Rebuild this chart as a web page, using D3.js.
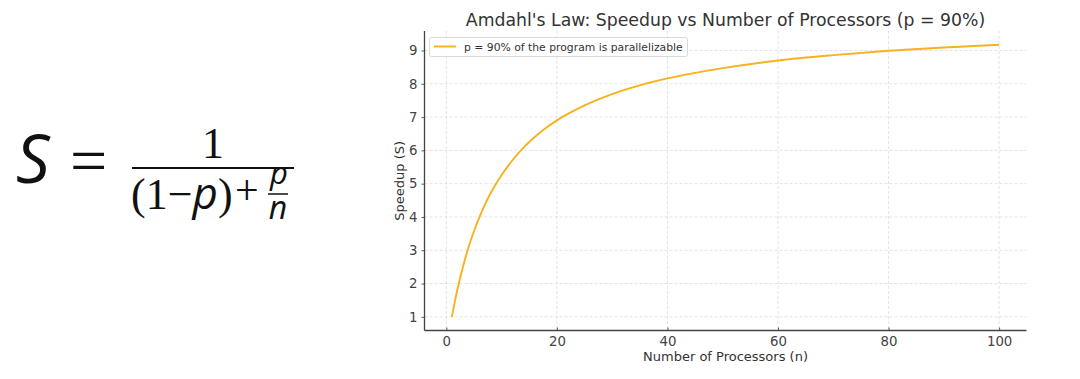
<!DOCTYPE html>
<html>
<head>
<meta charset="utf-8">
<script src="https://cdn.jsdelivr.net/npm/d3@7"></script>
<style>
  html, body { margin: 0; padding: 0; background: #fff; }
  svg { display: block; }
  text { font-family: "DejaVu Sans", sans-serif; }
</style>
</head>
<body>
<svg id="chart" width="1080" height="379"></svg>
<script>
// ---- data ----
const processors = [1, 2, 3, 4, 5, 6, 7, 8, 10, 12, 14, 16, 18, 20, 25, 30, 35, 40, 50, 60, 70, 80, 90, 100];
const speedup    = [1.0, 1.82, 2.5, 3.08, 3.57, 4.0, 4.38, 4.71, 5.26, 5.71, 6.09, 6.4, 6.67, 6.9, 7.35, 7.69, 7.95, 8.16, 8.47, 8.7, 8.86, 8.99, 9.09, 9.17];
const xTicks = [0, 20, 40, 60, 80, 100];
const yTicks = [1, 2, 3, 4, 5, 6, 7, 8, 9];
const titleText = "Amdahl's Law: Speedup vs Number of Processors (p = 90%)";
const legendText = "p = 90% of the program is parallelizable";
const xLabel = "Number of Processors (n)";
const yLabel = "Speedup (S)";

(function () {
const svg = d3.select("#chart");

// ---- formula on the left ----
const sans = "'Open Sans', 'DejaVu Sans', sans-serif";
const serif = "'Liberation Serif', serif";
const f = svg.append("g").attr("class", "formula");
f.append("text").attr("x", 16).attr("y", 183)
  .style("font-family", sans).style("font-style", "italic").style("font-weight", "500")
  .style("font-size", "67px").attr("fill", "#111").text("S");
f.append("text").attr("x", 70).attr("y", 183)
  .style("font-family", serif).style("font-size", "66px")
  .attr("fill", "#111").text("=");
f.append("line").attr("x1", 132).attr("x2", 294).attr("y1", 168).attr("y2", 168)
  .attr("stroke", "#111").attr("stroke-width", 2.2);
f.append("text").attr("x", 213).attr("y", 158).attr("text-anchor", "middle")
  .style("font-family", serif).style("font-size", "44px")
  .attr("fill", "#111").text("1");
const den = f.append("text").attr("x", 131).attr("y", 209)
  .style("font-family", serif).style("font-size", "44px").attr("fill", "#111");
den.append("tspan").text("(1−");
den.append("tspan").style("font-family", sans).style("font-style", "italic").text("p");
den.append("tspan").text(")");
f.append("text").attr("x", 235).attr("y", 204)
  .style("font-family", serif).style("font-size", "42px").attr("fill", "#111").text("+");
f.append("text").attr("x", 279).attr("y", 184).attr("text-anchor", "middle")
  .style("font-family", sans).style("font-style", "italic")
  .style("font-size", "31px").attr("fill", "#111").text("p");
f.append("line").attr("x1", 268).attr("x2", 288).attr("y1", 194).attr("y2", 194)
  .attr("stroke", "#111").attr("stroke-width", 1.5);
f.append("text").attr("x", 278).attr("y", 219).attr("text-anchor", "middle")
  .style("font-family", sans).style("font-style", "italic")
  .style("font-size", "32px").attr("fill", "#111").text("n");

// ---- chart ----
const pl = 424.5, pr = 1026.5, pt = 31, pb = 330.5;
const x = d3.scaleLinear().domain([-3.95, 104.95]).range([pl, pr]);
const y = d3.scaleLinear().domain([0.59, 9.585]).range([pb, pt]);

const g = svg.append("g");

// grid
g.append("g").selectAll("line").data(xTicks).join("line")
  .attr("x1", d => x(d)).attr("x2", d => x(d)).attr("y1", pt).attr("y2", pb)
  .attr("stroke", "#dcdcdc").attr("stroke-width", 0.8).attr("stroke-dasharray", "3,2");
g.append("g").selectAll("line").data(yTicks).join("line")
  .attr("x1", pl).attr("x2", pr).attr("y1", d => y(d)).attr("y2", d => y(d))
  .attr("stroke", "#dcdcdc").attr("stroke-width", 0.8).attr("stroke-dasharray", "3,2");

// axes
const xAxis = g.append("g").attr("transform", `translate(0,${pb})`)
  .call(d3.axisBottom(x).tickValues(xTicks).tickSize(-3).tickPadding(6).tickFormat(d3.format("d")));
const yAxis = g.append("g").attr("transform", `translate(${pl},0)`)
  .call(d3.axisLeft(y).tickValues(yTicks).tickSize(3).tickPadding(4).tickFormat(d3.format("d")));
[xAxis, yAxis].forEach(a => {
  a.select(".domain").attr("stroke", "#444").attr("stroke-width", 1.3);
  a.selectAll(".tick line").attr("stroke", "#444").attr("stroke-width", 0.9);
  a.selectAll(".tick text").attr("fill", "#444").style("font-family", "'DejaVu Sans', sans-serif").style("font-size", "13.3px");
});
xAxis.select(".domain").attr("d", `M${pl},0H${pr}`);
yAxis.select(".domain").attr("d", `M0,${pb}V${pt}`);

// line
const line = d3.line().x((d, i) => x(processors[i])).y(d => y(d)).curve(d3.curveMonotoneX);
g.append("path").datum(speedup).attr("d", line)
  .attr("fill", "none").attr("stroke", "#f7b21c").attr("stroke-width", 1.9);

// title & labels
svg.append("text").attr("x", (pl + pr) / 2).attr("y", 26).attr("text-anchor", "middle")
  .attr("fill", "#333").style("font-size", "17.3px").text(titleText);
svg.append("text").attr("x", (pl + pr) / 2).attr("y", 361).attr("text-anchor", "middle")
  .attr("fill", "#333").style("font-size", "13px").text(xLabel);
svg.append("text").attr("transform", `translate(404,${(pt + pb) / 2}) rotate(-90)`)
  .attr("text-anchor", "middle").attr("fill", "#333").style("font-size", "13px").text(yLabel);

// legend
const lg = svg.append("g");
lg.append("rect").attr("x", 429.5).attr("y", 37.5).attr("width", 258).attr("height", 19).attr("rx", 2)
  .attr("fill", "#fff").attr("fill-opacity", 0.85).attr("stroke", "#d0d0d0").attr("stroke-width", 0.8);
lg.append("line").attr("x1", 434).attr("x2", 456).attr("y1", 46.5).attr("y2", 46.5)
  .attr("stroke", "#f7b21c").attr("stroke-width", 1.9);
lg.append("text").attr("x", 464).attr("y", 50.5).attr("fill", "#333").style("font-size", "10.8px").text(legendText);
})();
</script>
</body>
</html>
